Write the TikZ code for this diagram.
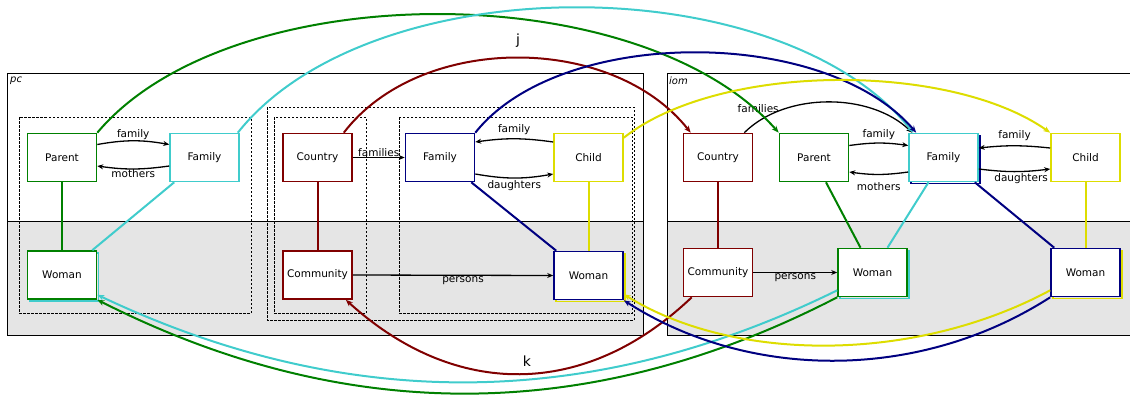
\documentclass[tikz,border=0pt]{standalone}
\usepackage{fontspec}
\setmainfont{DejaVu Sans}
\usetikzlibrary{arrows.meta}
\definecolor{cgreen}{RGB}{0,128,0}
\definecolor{ccyan}{RGB}{64,204,204}
\definecolor{cbrown}{RGB}{128,0,0}
\definecolor{cblue}{RGB}{0,0,128}
\definecolor{cyel}{RGB}{221,221,0}
\definecolor{cgray}{RGB}{229,229,229}
\begin{document}
\begin{tikzpicture}[x=1pt,y=-1pt,
 box/.style={draw, fill=white, line width=1.6pt, minimum width=69pt, minimum height=48pt, inner sep=0pt, font=\fontsize{10.5}{12}\selectfont},
 shad/.style={draw, line width=1.6pt, minimum width=69pt, minimum height=48pt, inner sep=0pt},
 conn/.style={line width=2pt},
 bigarc/.style={line width=2pt, -{Stealth[length=7pt,width=5.5pt]}},
 blk/.style={line width=1.3pt, -{Stealth[length=6pt,width=5pt]}},
 lab/.style={font=\fontsize{10.5}{12}\selectfont, inner sep=1pt},
 dbox/.style={draw, line width=0.8pt, dash pattern=on 2.5pt off 1.5pt},
 panel/.style={draw, line width=0.8pt}
]
\useasboundingbox (0,0) rectangle (1130,394);
% panels
\fill[cgray] (7,221) rectangle (643,335);
\draw[panel] (7,73) rectangle (643,335);
\draw[panel] (7,221) -- (643,221);
\fill[cgray] (667,221) rectangle (1140,335);
\draw[panel] (1140,73) -- (667,73) -- (667,335) -- (1140,335);
\draw[panel] (667,221) -- (1140,221);
\node[anchor=north west, inner sep=0pt, font=\itshape\fontsize{10}{12}\selectfont] (pcl) at (10,77) {pc};
\node[anchor=north west, inner sep=0pt, font=\itshape\fontsize{10}{12}\selectfont] (ioml) at (669,77) {iom};
% dashed groups
\draw[dbox] (19,117) rectangle (251,313);
\draw[dbox] (267,107) rectangle (634,320);
\draw[dbox] (274,117) rectangle (366,313);
\draw[dbox] (399,117) rectangle (632,313);
% shadows
\node[shad, draw=ccyan] (sh1) at (64,277) {};
\node[shad, draw=cyel] (sh2) at (590.5,277.5) {};
\node[shad, draw=cblue] (sh3) at (945.5,159.5) {};
\node[shad, draw=ccyan] (sh4) at (874.5,274.5) {};
\node[shad, draw=cyel] (sh5) at (1087.5,274.5) {};
% pc nodes
\node[box, draw=cgreen] (pParent) at (62,157.5) {Parent};
\node[box, draw=ccyan] (pFam1) at (204.5,157.5) {Family};
\node[box, draw=cgreen] (pWomanL) at (62,275) {Woman};
\node[box, draw=cbrown] (pCountry) at (317.5,157.5) {Country};
\node[box, draw=cbrown] (pCommunity) at (317.5,275) {Community};
\node[box, draw=cblue] (pFamily) at (440,157.5) {Family};
\node[box, draw=cyel] (pChild) at (588.5,157.5) {Child};
\node[box, draw=cblue] (pWomanR) at (588.5,275.5) {Woman};
% iom nodes
\node[box, draw=cbrown] (iCountry) at (718,157.5) {Country};
\node[box, draw=cbrown] (iCommunity) at (718,272.5) {Community};
\node[box, draw=cgreen] (iParent) at (814,157.5) {Parent};
\node[box, draw=ccyan] (iFamily) at (943.5,157.5) {Family};
\node[box, draw=cyel] (iChild) at (1085.5,157.5) {Child};
\node[box, draw=cgreen] (iWomanG) at (872.5,272.5) {Woman};
\node[box, draw=cblue] (iWomanB) at (1085.5,272.5) {Woman};
% pc inner connectors
\draw[conn, cgreen] (pParent.south) -- (pWomanL.north);
\draw[conn, ccyan] ([xshift=5pt]pFam1.south west) -- ([xshift=-5pt]pWomanL.north east);
\draw[conn, cbrown] (pCountry.south) -- (pCommunity.north);
\draw[conn, cblue] ([xshift=-4pt]pFamily.south east) -- ([xshift=3pt]pWomanR.north west);
\draw[conn, cyel] (pChild.south) -- (pWomanR.north);
\draw[blk] ([yshift=13pt]pParent.east) to[bend left=10] node[lab, above] {family} ([yshift=13pt]pFam1.west);
\draw[blk] ([yshift=-8.5pt]pFam1.west) to[bend left=8] node[lab, below, inner sep=0pt] {mothers} ([yshift=-8.5pt]pParent.east);
\draw[blk] (pCountry.east) -- node[lab, above, inner sep=0.5pt] {families} (pFamily.east -| pFamily.west);
\draw[blk] (pCommunity.east) -- node[lab, below, pos=0.55, inner sep=1pt] {persons} (pWomanR.west);
\draw[blk] ([yshift=15.5pt]pChild.west) to[bend right=8] node[lab, above, yshift=2pt] {family} ([yshift=15.5pt]pFamily.east);
\draw[blk] ([yshift=-16.5pt]pFamily.east) to[bend right=10] node[lab, below, yshift=-1pt] {daughters} ([yshift=-16.5pt]pChild.west);
% iom inner connectors
\draw[conn, cbrown] (iCountry.south) -- (iCommunity.north);
\draw[conn, cgreen] ([xshift=12pt]iParent.south) -- ([xshift=-12pt]iWomanG.north);
\draw[conn, ccyan] ([xshift=-15pt]iFamily.south) -- ([xshift=15pt]iWomanG.north);
\draw[conn, cblue] ([xshift=-4pt]iFamily.south east) -- ([xshift=4pt]iWomanB.north west);
\draw[conn, cyel] (iChild.south) -- (iWomanB.north);
\draw[blk] ([xshift=-9pt]iCountry.north east) .. controls (785,92) and (870,92) .. node[lab, pos=0.2, anchor=south east, inner sep=0pt, xshift=6pt] {families} ([xshift=4pt]iFamily.north west);
\draw[blk] ([yshift=12pt]iParent.east) to[bend left=8] node[lab, above, yshift=2pt] {family} ([yshift=12pt]iFamily.west);
\draw[blk] ([yshift=-14.5pt]iFamily.west) to[bend left=8] node[lab, below, yshift=-6pt] {mothers} ([yshift=-14.5pt]iParent.east);
\draw[blk] ([yshift=9.5pt]iChild.west) to[bend right=6] node[lab, above, yshift=3pt] {family} ([yshift=9.5pt]iFamily.east);
\draw[blk] ([yshift=-11.5pt]iFamily.east) to[bend right=7] node[lab, below, pos=0.6] {daughters} ([yshift=-11.5pt]iChild.west);
\draw[blk] (iCommunity.east) -- node[lab, below, inner sep=0pt] {persons} (iWomanG.west);
% long arcs (j)
\draw[bigarc, cgreen] (pParent.north east) .. controls (230,-25) and (640,-25) .. (iParent.north west);
\draw[bigarc, ccyan] ([xshift=-2pt]pFam1.north east) .. controls (370,-34) and (780,-34) .. ([xshift=5pt]iFamily.north west);
\draw[bigarc, cbrown] ([xshift=-9pt]pCountry.north east) .. controls (420,33) and (612,33) .. ([xshift=8pt]iCountry.north west);
\draw[bigarc, cblue] (pFamily.north east) .. controls (560,26) and (825,26) .. ([xshift=8pt]iFamily.north west);
\draw[bigarc, cyel] ([yshift=-5pt]pChild.north east) .. controls (720,62) and (950,62) .. (iChild.north west);
\node[font=\fontsize{14}{16}\selectfont, inner sep=0pt] (jl) at (518,41) {j};
% long arcs (k)
\draw[bigarc, cbrown] ([xshift=9pt]iCommunity.south west) .. controls (585,399) and (455,399) .. ([xshift=-7pt]pCommunity.south east);
\draw[bigarc, ccyan] ([yshift=7pt]iWomanG.south west) .. controls (590,412) and (345,412) .. ([yshift=5pt]pWomanL.south east);
\draw[bigarc, cgreen] (iWomanG.south west) .. controls (590,425) and (345,425) .. (pWomanL.south east);
\draw[bigarc, cyel] ([yshift=7pt]iWomanB.south west) .. controls (915,363) and (735,363) .. ([yshift=6pt]pWomanR.south east);
\draw[bigarc, cblue] (iWomanB.south west) .. controls (920,381) and (750,381) .. (pWomanR.south east);
\node[font=\fontsize{14}{16}\selectfont, inner sep=0pt] (kl) at (527,361) {k};
\end{tikzpicture}
\end{document}
